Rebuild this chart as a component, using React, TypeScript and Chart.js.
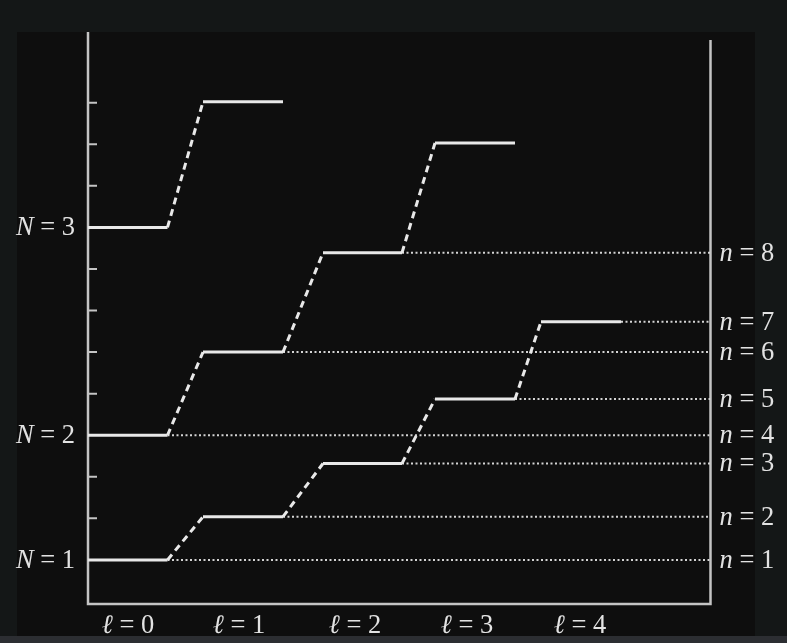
import React, { useEffect, useRef } from 'react';
import { Chart, registerables } from 'chart.js';

Chart.register(...registerables);

// ---- data ----
const ellValues = [0, 1, 2, 3, 4];
const segStart = [0, 115, 235, 347, 453];
const segEnd = [79.5, 195, 314, 427, 533];
const ellLabelX = [40, 151, 267, 379, 492];
const levelEll = [0, 0, 0, 1, 1, 1, 2, 2, 3, 3, 4];
const levelEnergy = [1.0, 4.0, 9.0, 2.04, 6.0, 12.02, 3.32, 8.39, 4.87, 11.03, 6.73];
const jumpFrom = [0, 1, 2, 3, 4, 6, 7, 8];
const jumpTo = [3, 4, 5, 6, 7, 8, 9, 10];
const nNumbers = [1, 2, 3, 4, 5, 6, 7, 8];
const nLevel = [0, 3, 6, 1, 8, 4, 10, 7];
const bigN = [1, 2, 3];
const bigNLevel = [0, 1, 2];
const yTicks = [2, 3, 5, 6, 7, 8, 10, 11, 12];
const xMax = 622.5;
const yMin = -0.06;
const yMax = 13.7;

const W = 787;
const H = 643;
const SERIF = '"Liberation Serif", "DejaVu Serif", serif';
const TEXT = '#e2e2e2';
const FS = 26.5;

type Part = { t: string; i?: boolean };

function drawMixed(ctx: CanvasRenderingContext2D, parts: Part[], x: number, y: number, align: 'left' | 'center', size: number) {
  const fonts = parts.map((p) => `${p.i ? 'italic ' : ''}${size}px ${SERIF}`);
  let total = 0;
  const widths = parts.map((p, k) => {
    ctx.font = fonts[k];
    const w = ctx.measureText(p.t).width;
    total += w;
    return w;
  });
  let cx = align === 'center' ? x - total / 2 : x;
  ctx.textBaseline = 'middle';
  ctx.textAlign = 'left';
  ctx.fillStyle = TEXT;
  parts.forEach((p, k) => {
    ctx.font = fonts[k];
    ctx.fillText(p.t, cx, y);
    cx += widths[k];
  });
}

const framePlugin = {
  id: 'frame',
  beforeDraw(chart: any) {
    const ctx = chart.ctx as CanvasRenderingContext2D;
    ctx.save();
    ctx.fillStyle = '#141717';
    ctx.fillRect(0, 0, W, H);
    ctx.fillStyle = '#0e0e0e';
    ctx.fillRect(17, 32, 738, 604);
    ctx.fillStyle = '#2c2e32';
    ctx.fillRect(0, 636, W, H - 636);
    ctx.restore();
  },
  beforeDatasetsDraw(chart: any) {
    const ctx = chart.ctx as CanvasRenderingContext2D;
    const { left, right, bottom } = chart.chartArea;
    const ys = chart.scales.y;
    ctx.save();
    ctx.strokeStyle = '#c4c4c4';
    ctx.lineWidth = 2.5;
    ctx.beginPath();
    ctx.moveTo(left, 32);
    ctx.lineTo(left, bottom);
    ctx.lineTo(right, bottom);
    ctx.lineTo(right, 40);
    ctx.stroke();
    ctx.lineWidth = 2;
    ctx.beginPath();
    yTicks.forEach((v) => {
      const py = ys.getPixelForValue(v);
      ctx.moveTo(left, py);
      ctx.lineTo(left + 9, py);
    });
    ctx.stroke();
    ctx.restore();
  },
  afterDraw(chart: any) {
    const ctx = chart.ctx as CanvasRenderingContext2D;
    const xs = chart.scales.x;
    const ys = chart.scales.y;
    const { right } = chart.chartArea;
    ctx.save();
    bigN.forEach((n, k) => {
      const py = ys.getPixelForValue(levelEnergy[bigNLevel[k]]);
      drawMixed(ctx, [{ t: 'N', i: true }, { t: ' = ' + n }], 16, py + 1, 'left', FS);
    });
    nNumbers.forEach((n, k) => {
      const py = ys.getPixelForValue(levelEnergy[nLevel[k]]);
      drawMixed(ctx, [{ t: 'n', i: true }, { t: ' = ' + n }], right + 9, py + 1, 'left', FS);
    });
    ellValues.forEach((l, k) => {
      const px = xs.getPixelForValue(ellLabelX[k]);
      drawMixed(ctx, [{ t: 'ℓ', i: true }, { t: ' = ' + l }], px, 626, 'center', FS);
    });
    ctx.restore();
  },
};

function buildDatasets() {
  const ds: any[] = [];
  levelEnergy.forEach((e, k) => {
    const l = levelEll[k];
    ds.push({
      data: [{ x: segStart[l], y: e }, { x: segEnd[l], y: e }],
      borderColor: '#e8e8e8',
      borderWidth: 3,
      pointRadius: 0,
      order: 0,
    });
  });
  jumpFrom.forEach((a, k) => {
    const b = jumpTo[k];
    ds.push({
      data: [
        { x: segEnd[levelEll[a]], y: levelEnergy[a] },
        { x: segStart[levelEll[b]], y: levelEnergy[b] },
      ],
      borderColor: '#e8e8e8',
      borderWidth: 3,
      borderDash: [7, 5],
      pointRadius: 0,
      order: 1,
    });
  });
  nLevel.forEach((idx) => {
    const e = levelEnergy[idx];
    ds.push({
      data: [{ x: segEnd[levelEll[idx]], y: e }, { x: xMax, y: e }],
      borderColor: '#d4d4d4',
      borderWidth: 2,
      borderDash: [2, 2.5],
      pointRadius: 0,
      order: 2,
    });
  });
  return ds;
}

export default function App() {
  const ref = useRef<HTMLCanvasElement | null>(null);
  useEffect(() => {
    document.body.style.margin = '0';
    document.body.style.background = '#141717';
    const canvas = ref.current;
    if (!canvas) return;
    const chart = new Chart(canvas, {
      type: 'line',
      data: { datasets: buildDatasets() },
      options: {
        animation: false,
        responsive: false,
        devicePixelRatio: 1,
        layout: { padding: { left: 88, right: W - 710.5, top: 32, bottom: H - 604 } },
        plugins: { legend: { display: false }, tooltip: { enabled: false } },
        events: [],
        scales: {
          x: { type: 'linear', min: 0, max: xMax, display: false },
          y: { type: 'linear', min: yMin, max: yMax, display: false },
        },
      },
      plugins: [framePlugin],
    });
    return () => chart.destroy();
  }, []);
  return <canvas ref={ref} width={W} height={H} style={{ display: 'block' }} />;
}
